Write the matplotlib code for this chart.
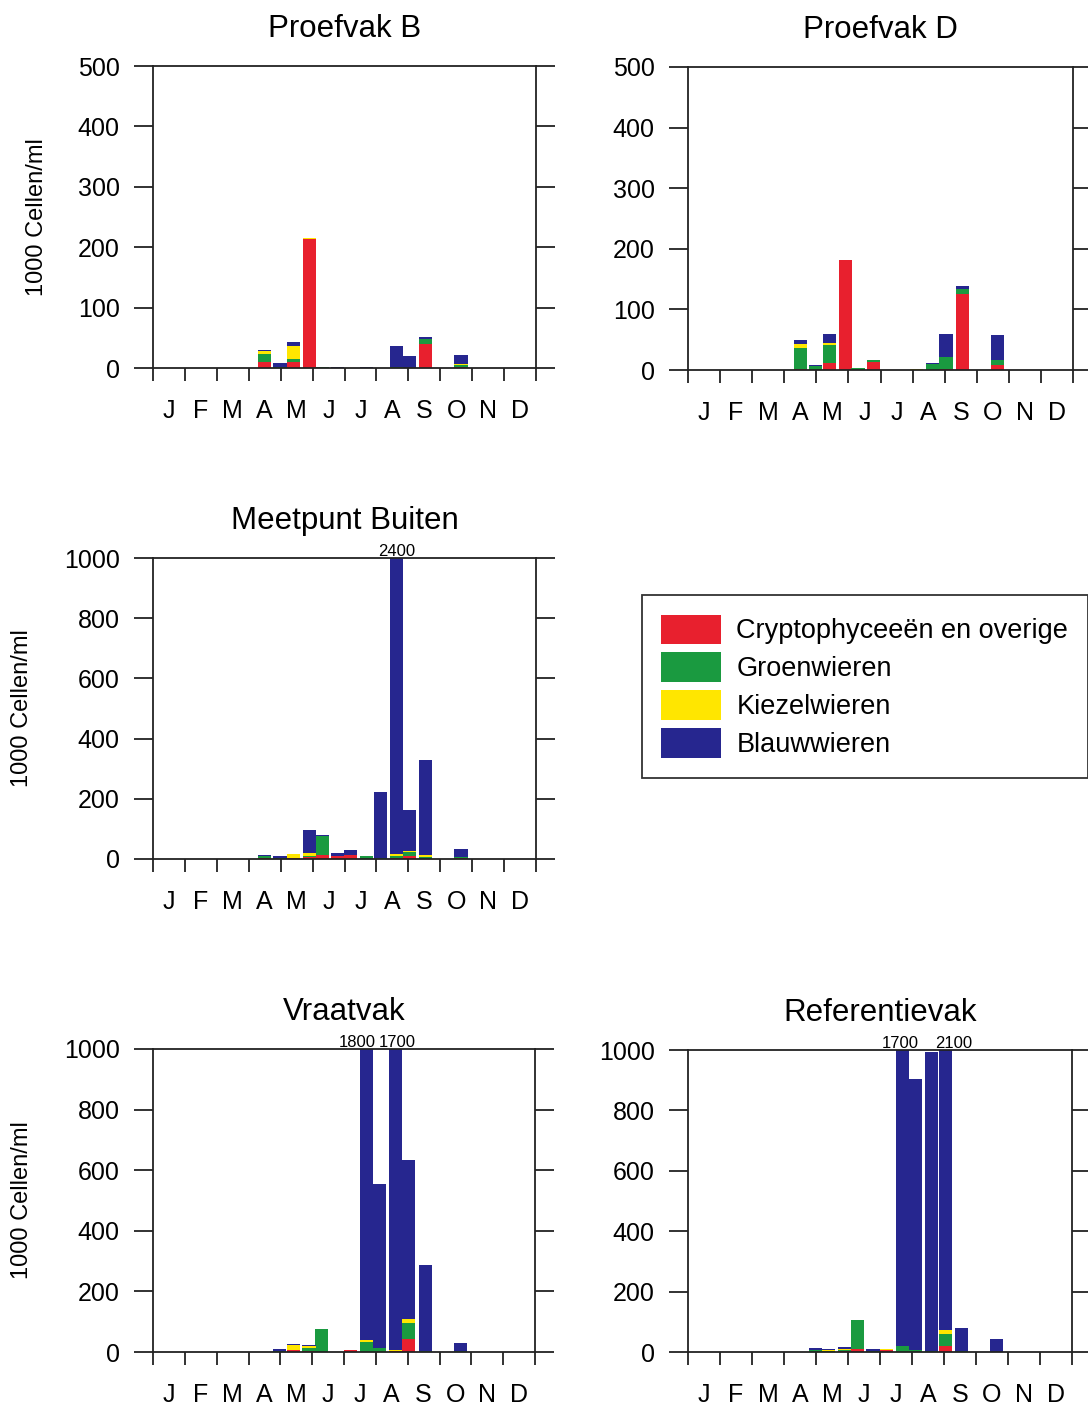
import matplotlib
matplotlib.use('Agg')
import matplotlib.pyplot as plt
from matplotlib.patches import Patch

plt.rcParams['font.family'] = ['Liberation Sans', 'DejaVu Sans']

# ---------------- data ----------------
months = ['J', 'F', 'M', 'A', 'M', 'J', 'J', 'A', 'S', 'O', 'N', 'D']
# sampling dates expressed in months (0 = 1 Jan, 12 = 31 Dec)
dates = [3.5, 3.98, 4.4, 4.9, 5.3, 5.78, 6.2, 6.7, 7.12, 7.62, 8.04, 8.55, 9.65]

groups = ['Cryptophyceeën en overige', 'Groenwieren', 'Kiezelwieren', 'Blauwwieren']
colors = ['#E8202E', '#1A9A40', '#FFE600', '#26268F']

# Proefvak B (1000 cellen/ml)
pb_crypto = [10, 0, 10, 213, 0, 0, 0, 0, 0, 0, 0, 40, 2]
pb_groen = [14, 2, 5, 0, 2, 0.5, 0, 0, 0, 1, 0, 8, 3]
pb_kiezel = [4, 0, 21, 3, 0, 0, 0, 0, 0, 0, 0, 0, 1]
pb_blauw = [2, 6, 7, 0, 0, 1, 0, 1, 0, 36, 20, 4, 15]

# Proefvak D
pd_crypto = [1, 0, 11, 182, 0, 13, 0, 0, 0, 0, 1, 125, 9]
pd_groen = [35, 6, 30, 0, 4, 3, 0, 0, 0, 10, 20, 9, 7]
pd_kiezel = [7, 0, 4, 0, 0, 1, 0, 0, 1, 0, 1, 0, 0]
pd_blauw = [6, 2, 15, 0, 0, 0, 0, 0, 0, 2, 38, 4, 42]

# Meetpunt Buiten
mb_crypto = [2, 0, 4, 7, 13, 11, 13, 0, 0, 2, 10, 0, 3]
mb_groen = [8, 3, 0, 3, 63, 0, 0, 10, 3, 8, 14, 6, 5]
mb_kiezel = [0, 0, 12, 10, 0, 0, 0, 0, 0, 5, 4, 6, 0]
mb_blauw = [4, 6, 0, 78, 3, 10, 16, 0, 219, 2385, 136, 318, 24]

# Vraatvak
vv_crypto = [0, 0, 5, 2, 0, 0, 5, 0, 0, 3, 44, 0, 0]
vv_groen = [0, 4, 3, 10, 75, 0, 0, 33, 13, 0, 52, 2, 3]
vv_kiezel = [0, 0, 15, 7, 0, 0, 3, 5, 0, 5, 14, 0, 0]
vv_blauw = [0, 6, 5, 3, 2, 0, 0, 1762, 543, 1692, 523, 284, 28]

# Referentievak
rv_crypto = [0, 0, 0, 2, 9, 0, 8, 0, 0, 0, 20, 0, 0]
rv_groen = [0, 5, 3, 5, 98, 4, 0, 20, 5, 3, 41, 2, 0]
rv_kiezel = [0, 0, 2, 4, 0, 0, 2, 0, 0, 0, 13, 2, 0]
rv_blauw = [0, 8, 5, 6, 0, 6, 0, 1680, 900, 990, 2026, 76, 44]

# ---------------- layout ----------------
W, H = 1088, 1407
fig = plt.figure(figsize=(W / 100, H / 100), dpi=100)


def px_axes(left, top, right, bottom):
    return [left / W, 1 - bottom / H, (right - left) / W, (bottom - top) / H]


panels = [
    dict(title='Proefvak B', data=(pb_crypto, pb_groen, pb_kiezel, pb_blauw),
         box=(153, 66, 536, 368), ymax=500, yticks=[0, 100, 200, 300, 400, 500],
         ylabel_x=37, shifts=[]),
    dict(title='Proefvak D', data=(pd_crypto, pd_groen, pd_kiezel, pd_blauw),
         box=(688, 67, 1073, 370), ymax=500, yticks=[0, 100, 200, 300, 400, 500],
         ylabel_x=None, shifts=[]),
    dict(title='Meetpunt Buiten', data=(mb_crypto, mb_groen, mb_kiezel, mb_blauw),
         box=(153, 558, 536, 859), ymax=1000, yticks=[0, 200, 400, 600, 800, 1000],
         ylabel_x=22, shifts=[0]),
    dict(title='Vraatvak', data=(vv_crypto, vv_groen, vv_kiezel, vv_blauw),
         box=(153, 1049, 535, 1352), ymax=1000, yticks=[0, 200, 400, 600, 800, 1000],
         ylabel_x=22, shifts=[-9, 2]),
    dict(title='Referentievak', data=(rv_crypto, rv_groen, rv_kiezel, rv_blauw),
         box=(688, 1050, 1072, 1352), ymax=1000, yticks=[0, 200, 400, 600, 800, 1000],
         ylabel_x=None, shifts=[-2, 8]),
]

edge = '#222222'
for p in panels:
    l, t, r, b = p['box']
    ax = fig.add_axes(px_axes(l, t, r, b))
    bottoms = [0.0] * len(dates)
    for vals, col in zip(p['data'], colors):
        ax.bar(dates, vals, width=0.41, bottom=bottoms, color=col,
               edgecolor='none', linewidth=0)
        bottoms = [bo + v for bo, v in zip(bottoms, vals)]
    ax.set_xlim(0, 12)
    ax.set_ylim(0, p['ymax'])
    ax.set_yticks(p['yticks'])
    ax.set_xticks(range(13))
    ax.set_xticklabels([])
    ax.set_xticks([m + 0.5 for m in range(12)], minor=True)
    ax.set_xticklabels(months, minor=True)
    ax.tick_params(axis='x', which='major', direction='out', length=9,
                   width=1.3, color=edge)
    ax.tick_params(axis='x', which='minor', length=0, pad=22, labelsize=18)
    ax.tick_params(axis='y', direction='out', length=14, width=1.3, color=edge,
                   left=True, right=True, labelsize=18, pad=10)
    for s in ax.spines.values():
        s.set_linewidth(1.3)
        s.set_color(edge)
    ax.set_title(p['title'], fontsize=22.5, pad=21)
    if p['ylabel_x'] is not None:
        fig.text(p['ylabel_x'] / W, 1 - ((t + b) / 2) / H, '1000 Cellen/ml',
                 rotation=90, ha='center', va='center', fontsize=17)
    # values beyond the axis limit
    over = [(d, tot) for d, tot in zip(dates, bottoms) if tot > p['ymax']]
    for k, (d, tot) in enumerate(over):
        dx = p['shifts'][k] if k < len(p['shifts']) else 0
        ax.annotate(f'{int(round(tot, -2))}', xy=(d, p['ymax']),
                    xytext=(dx * 0.72, 1.5), textcoords='offset points',
                    ha='center', va='baseline', fontsize=12,
                    annotation_clip=False)

handles = [Patch(facecolor=c, edgecolor='none', label=g) for g, c in zip(groups, colors)]
leg = fig.legend(handles=handles, loc='upper left',
                 bbox_to_anchor=(641.7 / W, 1 - 595 / H), bbox_transform=fig.transFigure,
                 borderaxespad=0, fontsize=19.5, handlelength=2.2, handleheight=1.3,
                 handletextpad=0.58, labelspacing=0.3, borderpad=0.72,
                 fancybox=False, framealpha=1, edgecolor='#333333')
leg.get_frame().set_linewidth(1.3)

fig.savefig('out.png', dpi=100)
